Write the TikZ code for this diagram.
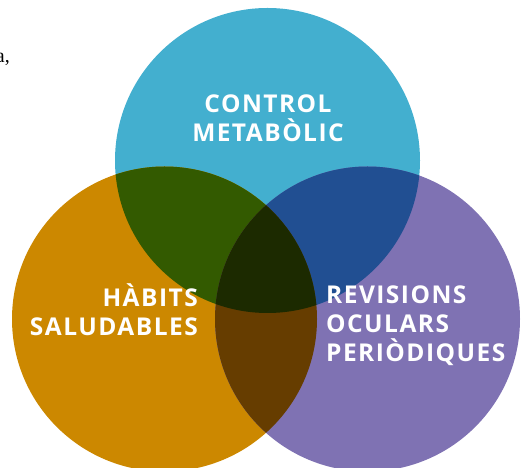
\documentclass[tikz,border=0pt]{standalone}
\usepackage{fontspec}
\setmainfont{Open Sans}
\newfontfamily\labelfont[LetterSpace=6]{Open Sans}
\newfontfamily\pagefont{Liberation Serif}
\usetikzlibrary{positioning}
\definecolor{metabblue}{HTML}{43AFCF}
\definecolor{habitorange}{HTML}{CC8800}
\definecolor{revispurple}{HTML}{7F72B3}
\definecolor{bluegreen}{HTML}{335A00}
\definecolor{bluepurple}{HTML}{214F92}
\definecolor{orangepurple}{HTML}{663D00}
\definecolor{allthree}{HTML}{1C2A00}
\tikzset{
  vennlabel/.style={text=white, inner sep=0, font=\labelfont\fontsize{24.5}{29}\selectfont\bfseries},
  leftover/.style={inner sep=0, font=\pagefont\fontsize{20}{24}\selectfont}
}
\begin{document}
\begin{tikzpicture}[x=1pt, y=1pt]
\useasboundingbox (0,0) rectangle (525,468);
\def\rad{152.5}

% circle centres
\coordinate (metab) at (267.5,307.5);
\coordinate (habits) at (164.5,149);
\coordinate (revis) at (367.5,149);

% cut-off text from the page
\node[leftover, anchor=base east] (cut) at (10,405) {a,};

% the three circles
\fill[metabblue] (metab) circle (\rad);
\fill[habitorange] (habits) circle (\rad);
\fill[revispurple] (revis) circle (\rad);

% overlaps
\begin{scope}
  \clip (metab) circle (\rad);
  \fill[bluegreen] (habits) circle (\rad);
  \fill[bluepurple] (revis) circle (\rad);
\end{scope}
\begin{scope}
  \clip (habits) circle (\rad);
  \fill[orangepurple] (revis) circle (\rad);
  \clip (revis) circle (\rad);
  \fill[allthree] (metab) circle (\rad);
\end{scope}

% labels
\node[vennlabel, align=center] (control) at (268,350) {CONTROL\\METABÒLIC};
\node[vennlabel, align=right, anchor=east] (habit) at (198,158) {HÀBITS\\SALUDABLES};
\node[vennlabel, align=left, anchor=west] (revision) at (326,142) {REVISIONS\\OCULARS\\PERIÒDIQUES};

\end{tikzpicture}
\end{document}
